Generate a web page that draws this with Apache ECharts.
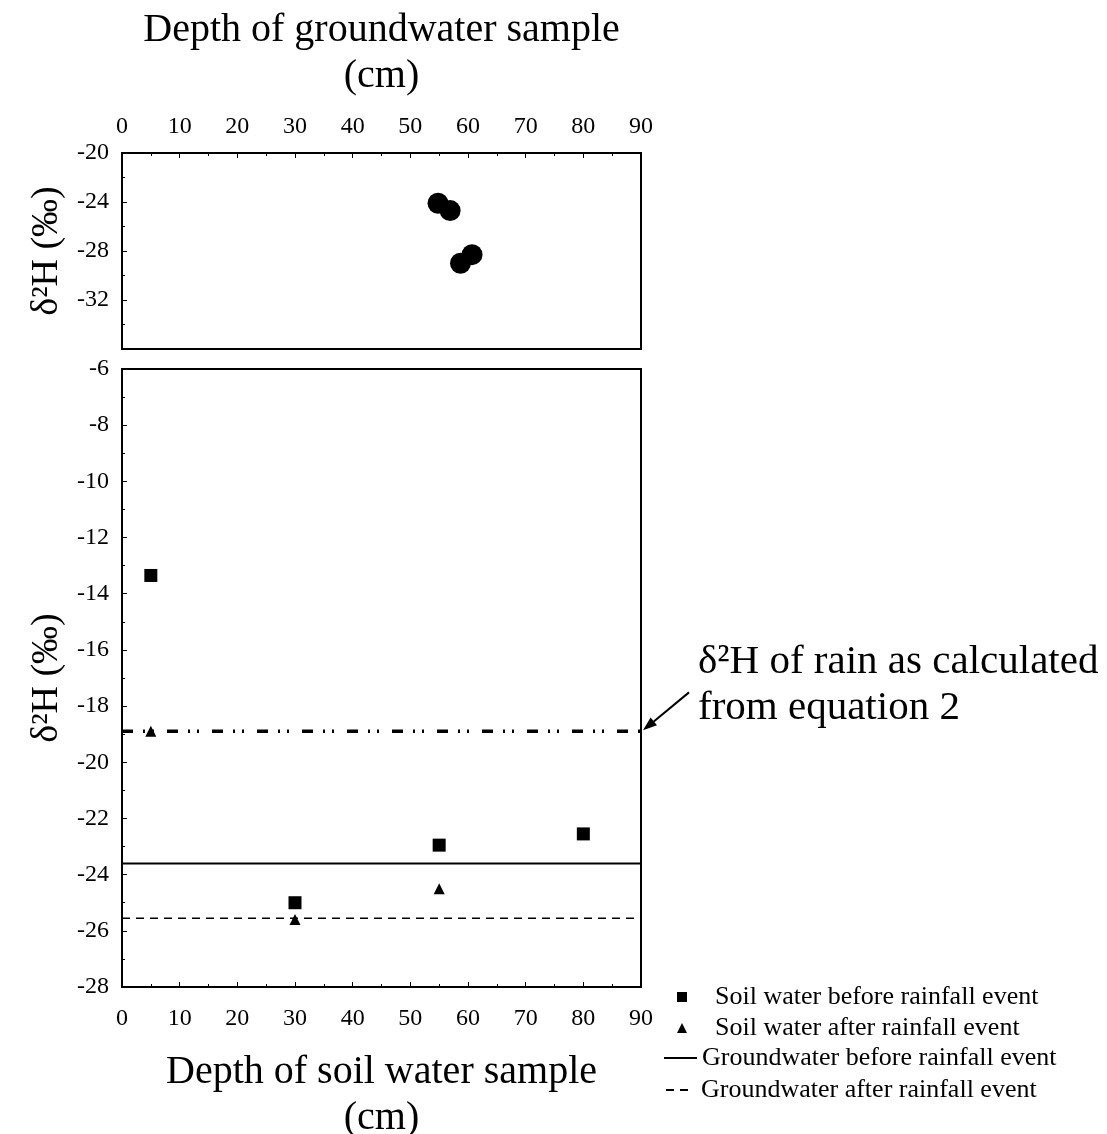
<!DOCTYPE html>
<html><head><meta charset="utf-8">
<script src="https://cdn.jsdelivr.net/npm/echarts@6/dist/echarts.min.js"></script>
<style>html,body{margin:0;padding:0;background:#fff}#c{width:1107px;height:1134px}</style>
</head><body><div id="c"></div>
<script>
// ---- data ----
const gwDepth = [54.8, 56.9, 58.7, 60.7];
const gwD2H = [-24.1, -24.7, -29.0, -28.3];
const soilDepthBefore = [5, 30, 55, 80];
const soilBefore = [-13.35, -25.0, -22.95, -22.55];
const soilDepthAfter = [5, 30, 55];
const soilAfter = [-18.9, -25.6, -24.5];
const gwBeforeLevel = -23.6;
const gwAfterLevel = -25.55;
const rainLevel = -18.9;
const depthRange = [0, 90];
const topYRange = [-36, -20];
const botYRange = [-28, -6];

const FONT = "'Liberation Serif','Times New Roman',serif";
const pair = (xs, ys) => xs.map((x, i) => [x, ys[i]]);
const hline = v => depthRange.map(x => [x, v]);

const chart = echarts.init(document.getElementById('c'), null, {renderer: 'canvas'});

const axisLabel = {color: '#000', fontFamily: FONT, fontSize: 24};
const tickCommon = {show: true, inside: true, length: 5, lineStyle: {color: '#000', width: 1}};
const minorCommon = {show: true, splitNumber: 2, length: 3, lineStyle: {color: '#000', width: 1}};
const axisLineCommon = {show: true, lineStyle: {color: '#000', width: 2}};
const legendText = {color: '#000', fontFamily: FONT, fontSize: 26, lineHeight: 26};
const solidBlack = {color: '#000', opacity: 1};

const option = {
  backgroundColor: '#fff',
  animation: false,
  grid: [
    {left: 122, right: 466, top: 153, height: 196, show: true, borderColor: '#000', borderWidth: 2, backgroundColor: 'transparent', containLabel: false, outerBoundsMode: 'none'},
    {left: 122, right: 466, top: 369, height: 618, show: true, borderColor: '#000', borderWidth: 2, backgroundColor: 'transparent', containLabel: false, outerBoundsMode: 'none'}
  ],
  xAxis: [
    {gridIndex: 0, type: 'value', position: 'top', min: depthRange[0], max: depthRange[1], interval: 10,
     name: 'Depth of groundwater sample\n(cm)', nameLocation: 'middle', nameGap: 54,
     nameTextStyle: {color: '#000', fontFamily: FONT, fontSize: 40, lineHeight: 46},
     axisLine: axisLineCommon, axisTick: tickCommon, minorTick: minorCommon,
     axisLabel: Object.assign({margin: 14}, axisLabel), splitLine: {show: false}},
    {gridIndex: 1, type: 'value', position: 'bottom', min: depthRange[0], max: depthRange[1], interval: 10,
     name: 'Depth of soil water sample\n(cm)', nameLocation: 'middle', nameGap: 62,
     nameTextStyle: {color: '#000', fontFamily: FONT, fontSize: 40, lineHeight: 46},
     axisLine: axisLineCommon, axisTick: tickCommon, minorTick: minorCommon,
     axisLabel: Object.assign({margin: 20}, axisLabel), splitLine: {show: false}}
  ],
  yAxis: [
    {gridIndex: 0, type: 'value', min: topYRange[0], max: topYRange[1], interval: 4,
     name: 'δ²H (‰)', nameLocation: 'middle', nameGap: 56,
     nameTextStyle: {color: '#000', fontFamily: FONT, fontSize: 38},
     axisLine: axisLineCommon, axisTick: tickCommon, minorTick: minorCommon,
     axisLabel: Object.assign({margin: 13, formatter: v => v === topYRange[0] ? '' : String(v)}, axisLabel),
     splitLine: {show: false}},
    {gridIndex: 1, type: 'value', min: botYRange[0], max: botYRange[1], interval: 2,
     name: 'δ²H (‰)', nameLocation: 'middle', nameGap: 56,
     nameTextStyle: {color: '#000', fontFamily: FONT, fontSize: 38},
     axisLine: axisLineCommon, axisTick: tickCommon, minorTick: minorCommon,
     axisLabel: Object.assign({margin: 13}, axisLabel), splitLine: {show: false}}
  ],
  legend: [
    {data: [{name: 'Soil water before rainfall event', icon: 'rect'}, {name: 'Soil water after rainfall event', icon: 'triangle'}],
     orient: 'vertical', left: 677, top: 984, padding: 0, itemWidth: 10, itemHeight: 10, itemGap: 5,
     selectedMode: false, itemStyle: {color: '#000', opacity: 1},
     textStyle: Object.assign({padding: [0, 0, 0, 23]}, legendText)},
    {data: [{name: 'Groundwater before rainfall event', itemStyle: {opacity: 0}}], orient: 'vertical', left: 663, top: 1045, padding: 0,
     itemWidth: 33, itemHeight: 10, selectedMode: false, textStyle: legendText},
    {data: [{name: 'Groundwater after rainfall event', itemStyle: {opacity: 0}}], orient: 'vertical', left: 665, top: 1077, padding: 0,
     itemWidth: 22, itemHeight: 10, selectedMode: false,
     textStyle: Object.assign({padding: [0, 0, 0, 8]}, legendText)}
  ],
  series: [
    {name: 'Groundwater samples', type: 'scatter', xAxisIndex: 0, yAxisIndex: 0,
     symbol: 'circle', symbolSize: 21, itemStyle: solidBlack, data: pair(gwDepth, gwD2H)},
    {name: 'Groundwater before rainfall event', type: 'line', xAxisIndex: 1, yAxisIndex: 1,
     symbol: 'none', showSymbol: false, itemStyle: solidBlack,
     lineStyle: {color: '#000', width: 2, type: 'solid'}, data: hline(gwBeforeLevel), z: 1},
    {name: 'Groundwater after rainfall event', type: 'line', xAxisIndex: 1, yAxisIndex: 1,
     symbol: 'none', showSymbol: false, itemStyle: solidBlack,
     lineStyle: {color: '#000', width: 1.5, type: [8, 6]}, data: hline(gwAfterLevel), z: 1},
    {name: 'Rain (equation 2)', type: 'line', xAxisIndex: 1, yAxisIndex: 1,
     symbol: 'none', showSymbol: false, itemStyle: solidBlack,
     lineStyle: {color: '#000', width: 3.5, type: [11, 10, 2, 7, 2, 13]}, data: hline(rainLevel), z: 1},
    {name: 'Soil water before rainfall event', type: 'scatter', xAxisIndex: 1, yAxisIndex: 1,
     symbol: 'rect', symbolSize: 13, itemStyle: solidBlack, data: pair(soilDepthBefore, soilBefore), z: 3},
    {name: 'Soil water after rainfall event', type: 'scatter', xAxisIndex: 1, yAxisIndex: 1,
     symbol: 'triangle', symbolSize: 11, itemStyle: solidBlack, data: pair(soilDepthAfter, soilAfter), z: 3}
  ]
};
chart.setOption(option);

// annotation arrow pointing at the end of the rain line
const tip = chart.convertToPixel({xAxisIndex: 1, yAxisIndex: 1}, [depthRange[1], rainLevel]);
const tx = tip[0] + 2, ty = tip[1] - 1;
const tail = [tx + 46, ty - 38];
const ang = Math.atan2(tail[1] - ty, tail[0] - tx);
const hl = 14, hw = 5;
const bx = tx + hl * Math.cos(ang), by = ty + hl * Math.sin(ang);
const px = -Math.sin(ang) * hw, py = Math.cos(ang) * hw;
chart.setOption({
  graphic: [
    {type: 'line', shape: {x1: tail[0], y1: tail[1], x2: bx, y2: by}, style: {stroke: '#000', lineWidth: 2}},
    {type: 'polygon', shape: {points: [[tx, ty], [bx + px, by + py], [bx - px, by - py]]}, style: {fill: '#000'}},
    {type: 'text', x: 698, y: 639, style: {text: 'δ²H of rain as calculated\nfrom equation 2', font: '41px ' + FONT, fill: '#000', lineHeight: 46}}
  ]
});
</script>
</body></html>
